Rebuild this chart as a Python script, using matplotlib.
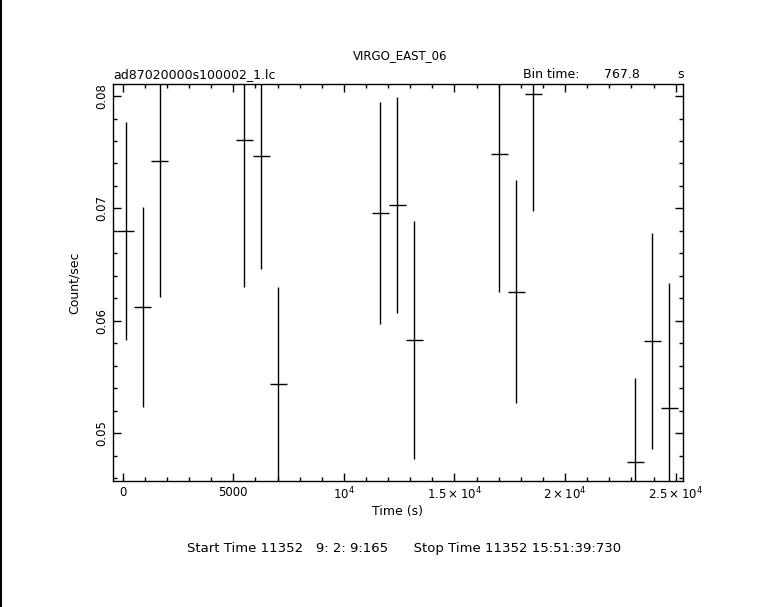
import matplotlib
matplotlib.use('Agg')
import matplotlib.pyplot as plt
from matplotlib.ticker import FixedLocator, MultipleLocator, FixedFormatter

# light curve bins (time in s since start, rate and 1-sigma error)
time_s = [130, 898, 1666, 5505, 6273, 7041, 11647, 12415, 13183,
          17022, 17790, 18558, 23165, 23932, 24700]
rate = [0.0680, 0.0612, 0.0742, 0.0761, 0.0747, 0.0544, 0.0696, 0.0703, 0.0583,
        0.0748, 0.0626, 0.0802, 0.0474, 0.0582, 0.0522]
rate_err = [0.0097, 0.0089, 0.0121, 0.0131, 0.0101, 0.0086, 0.0099, 0.0096, 0.0106,
            0.0122, 0.0099, 0.0104, 0.0075, 0.0096, 0.0112]
bin_time = 767.8

x_ticks = [0, 5000, 10000, 15000, 20000, 25000]
x_tick_labels = ['0', '5000', r'$10^4$', r'$1.5\times10^4$', r'$2\times10^4$', r'$2.5\times10^4$']
y_ticks = [0.05, 0.06, 0.07, 0.08]
y_tick_labels = ['0.05', '0.06', '0.07', '0.08']

fig = plt.figure(figsize=(7.65, 6.07), dpi=100)
ax = fig.add_axes([0.1473, 0.2076, 0.8924 - 0.1473, 0.8616 - 0.2076])

ax.errorbar(time_s, rate, yerr=rate_err, xerr=bin_time / 2, fmt='none',
            ecolor='black', elinewidth=1.0, capsize=0)

ax.set_xlim(-452, 25316)
ax.set_ylim(0.04575, 0.08107)

ax.xaxis.set_major_locator(FixedLocator(x_ticks))
ax.xaxis.set_major_formatter(FixedFormatter(x_tick_labels))
ax.xaxis.set_minor_locator(MultipleLocator(1000))
ax.yaxis.set_major_locator(FixedLocator(y_ticks))
ax.yaxis.set_major_formatter(FixedFormatter(y_tick_labels))
ax.yaxis.set_minor_locator(MultipleLocator(0.002))

ax.tick_params(which='both', direction='in', top=True, right=True, width=1, labelsize=8.5)
ax.tick_params(which='major', length=6)
ax.tick_params(which='minor', length=3)
for lab in ax.get_yticklabels():
    lab.set_rotation(90)
    lab.set_va('center')
for s in ax.spines.values():
    s.set_linewidth(1)

ax.set_xlabel('Time (s)', fontsize=9, labelpad=2)
ax.set_ylabel('Count/sec', fontsize=9, labelpad=10)

fig.text(0.523, 0.909, 'VIRGO_EAST_06', ha='center', va='center', fontsize=8.5)
fig.text(0.148, 0.878, 'ad87020000s100002_1.lc', ha='left', va='center', fontsize=9)
fig.text(0.684, 0.878, 'Bin time:', ha='left', va='center', fontsize=9)
fig.text(0.790, 0.878, '767.8', ha='left', va='center', fontsize=9)
fig.text(0.885, 0.878, 's', ha='left', va='center', fontsize=9)
fig.text(0.528, 0.096, 'Start Time 11352   9: 2: 9:165      Stop Time 11352 15:51:39:730',
         ha='center', va='center', fontsize=9.5)

# frame line at the left edge of the image
fig.add_artist(plt.Line2D([0.0007, 0.0007], [0, 1], color='black', linewidth=1.5,
                          transform=fig.transFigure))

fig.savefig('out.png', dpi=100)
